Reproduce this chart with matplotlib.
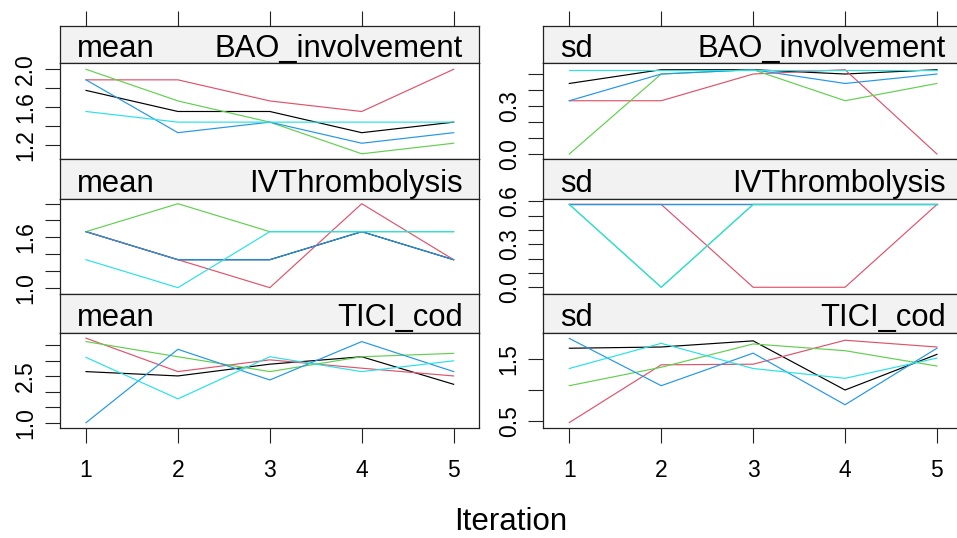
import matplotlib
matplotlib.use("Agg")
import matplotlib.pyplot as plt

plt.rcParams['font.family'] = ['Liberation Sans', 'DejaVu Sans']

iterations = [1, 2, 3, 4, 5]
chain_colors = ["#000000", "#DF536B", "#61D04F", "#2297E6", "#28E2E5"]

# mean BAO_involvement (chains: black, red, green, blue, cyan)
mean_bao_black = [1.778, 1.556, 1.556, 1.333, 1.444]
mean_bao_red = [1.889, 1.889, 1.667, 1.556, 2.000]
mean_bao_green = [2.000, 1.667, 1.444, 1.111, 1.222]
mean_bao_blue = [1.889, 1.333, 1.444, 1.222, 1.333]
mean_bao_cyan = [1.556, 1.444, 1.444, 1.444, 1.444]

sd_bao_black = [0.441, 0.527, 0.527, 0.500, 0.527]
sd_bao_red = [0.333, 0.333, 0.500, 0.527, 0.000]
sd_bao_green = [0.000, 0.500, 0.527, 0.333, 0.441]
sd_bao_blue = [0.333, 0.500, 0.527, 0.441, 0.500]
sd_bao_cyan = [0.527, 0.527, 0.527, 0.527, 0.527]

mean_ivt_black = [1.667, 1.333, 1.333, 1.667, 1.333]
mean_ivt_red = [1.667, 1.333, 1.000, 2.000, 1.333]
mean_ivt_green = [1.667, 2.000, 1.667, 1.667, 1.667]
mean_ivt_blue = [1.667, 1.333, 1.333, 1.667, 1.333]
mean_ivt_cyan = [1.333, 1.000, 1.667, 1.667, 1.667]

sd_ivt_black = [0.577, 0.577, 0.577, 0.577, 0.577]
sd_ivt_red = [0.577, 0.577, 0.000, 0.000, 0.577]
sd_ivt_green = [0.577, 0.000, 0.577, 0.577, 0.577]
sd_ivt_blue = [0.577, 0.577, 0.577, 0.577, 0.577]
sd_ivt_cyan = [0.577, 0.000, 0.577, 0.577, 0.577]

mean_tici_black = [2.65, 2.51, 2.89, 3.13, 2.24]
mean_tici_red = [3.73, 2.65, 3.03, 2.76, 2.51]
mean_tici_green = [3.62, 3.13, 2.65, 3.13, 3.24]
mean_tici_blue = [1.00, 3.37, 2.38, 3.62, 2.65]
mean_tici_cyan = [3.11, 1.77, 3.13, 2.65, 3.00]

sd_tici_black = [1.68, 1.70, 1.80, 1.00, 1.58]
sd_tici_red = [0.47, 1.41, 1.42, 1.81, 1.70]
sd_tici_green = [1.07, 1.37, 1.75, 1.64, 1.39]
sd_tici_blue = [1.84, 1.07, 1.60, 0.76, 1.68]
sd_tici_cyan = [1.35, 1.76, 1.35, 1.19, 1.52]

stat_names = ["mean", "sd"]
var_names = ["BAO_involvement", "IVThrombolysis", "TICI_cod"]

panels = {
    (0, 0): [mean_bao_black, mean_bao_red, mean_bao_green, mean_bao_blue, mean_bao_cyan],
    (0, 1): [sd_bao_black, sd_bao_red, sd_bao_green, sd_bao_blue, sd_bao_cyan],
    (1, 0): [mean_ivt_black, mean_ivt_red, mean_ivt_green, mean_ivt_blue, mean_ivt_cyan],
    (1, 1): [sd_ivt_black, sd_ivt_red, sd_ivt_green, sd_ivt_blue, sd_ivt_cyan],
    (2, 0): [mean_tici_black, mean_tici_red, mean_tici_green, mean_tici_blue, mean_tici_cyan],
    (2, 1): [sd_tici_black, sd_tici_red, sd_tici_green, sd_tici_blue, sd_tici_cyan],
}

y_ticks = {
    (0, 0): ([1.2, 1.4, 1.6, 1.8, 2.0], ["1.2", "", "1.6", "", "2.0"]),
    (0, 1): ([0.0, 0.1, 0.2, 0.3, 0.4, 0.5], ["0.0", "", "", "0.3", "", ""]),
    (1, 0): ([1.0, 1.2, 1.4, 1.6, 1.8, 2.0], ["1.0", "", "", "1.6", "", ""]),
    (1, 1): ([0.0, 0.1, 0.2, 0.3, 0.4, 0.5, 0.6], ["0.0", "", "", "0.3", "", "", "0.6"]),
    (2, 0): ([1.0, 1.5, 2.0, 2.5, 3.0, 3.5], ["1.0", "", "", "2.5", "", ""]),
    (2, 1): ([0.5, 1.0, 1.5], ["0.5", "", "1.5"]),
}
y_limits = {
    (0, 0): (1.053, 2.063),
    (0, 1): (-0.033, 0.567),
    (1, 0): (0.921, 2.056),
    (1, 1): (-0.049, 0.615),
    (2, 0): (0.838, 3.907),
    (2, 1): (0.386, 1.933),
}
x_limits = (0.717, 5.279)

W, H = 957, 538
fig = plt.figure(figsize=(W / 100, H / 100), dpi=100)


def rect(x0, y0, x1, y1):
    return [x0 / W, 1 - y1 / H, (x1 - x0) / W, (y1 - y0) / H]


cols = [(60, 479.3), (543.3, 962.6)]
rows = [(26, 63.3, 159.3), (159.3, 199, 294.3), (294.3, 332.7, 427.7)]

tick_len = 10.8
tick_fs = 16.5
strip_fs = 22.3
edge = "#222222"

for r, (s0, p0, p1) in enumerate(rows):
    for c, (x0, x1) in enumerate(cols):
        # strip
        sax = fig.add_axes(rect(x0, s0, x1, p0))
        sax.set_facecolor("#F2F2F2")
        sax.set_xlim(*x_limits)
        sax.set_ylim(0, 1)
        for sp in sax.spines.values():
            sp.set_linewidth(0.9)
            sp.set_color(edge)
        sax.set_yticks([])
        if r == 0:
            sax.set_xticks(iterations)
            sax.xaxis.set_ticks_position("top")
            sax.tick_params(axis="x", direction="out", length=tick_len, width=0.8,
                            color=edge, labeltop=False, labelbottom=False)
        else:
            sax.set_xticks([])
        pw = x1 - x0
        sax.text(17 / pw, 0.177, stat_names[c], transform=sax.transAxes,
                 ha="left", va="baseline", fontsize=strip_fs, color="black")
        sax.text(1 - 16.5 / pw, 0.177, var_names[r], transform=sax.transAxes,
                 ha="right", va="baseline", fontsize=strip_fs, color="black")

        # panel
        ax = fig.add_axes(rect(x0, p0, x1, p1))
        for series, col in zip(panels[(r, c)], chain_colors):
            ax.plot(iterations, series, color=col, lw=0.85, solid_joinstyle="miter")
        ax.set_xlim(*x_limits)
        ax.set_ylim(*y_limits[(r, c)])
        for sp in ax.spines.values():
            sp.set_linewidth(0.9)
            sp.set_color(edge)
        ticks, labels = y_ticks[(r, c)]
        ax.set_yticks(ticks)
        ax.set_yticklabels(labels, rotation=90, va="center")
        ax.tick_params(axis="y", direction="out", length=tick_len, width=0.8,
                       color=edge, labelsize=tick_fs, pad=5.5)
        if r == 2:
            ax.set_xticks(iterations)
            ax.set_xticklabels([str(i) for i in iterations])
            ax.tick_params(axis="x", direction="out", length=tick_len, width=0.8,
                           color=edge, labelsize=tick_fs, pad=12)
        else:
            ax.set_xticks([])

fig.text(511 / W, 1 - 522 / H, "Iteration", ha="center", va="center", fontsize=22.5)

fig.savefig("out.png", dpi=100)
